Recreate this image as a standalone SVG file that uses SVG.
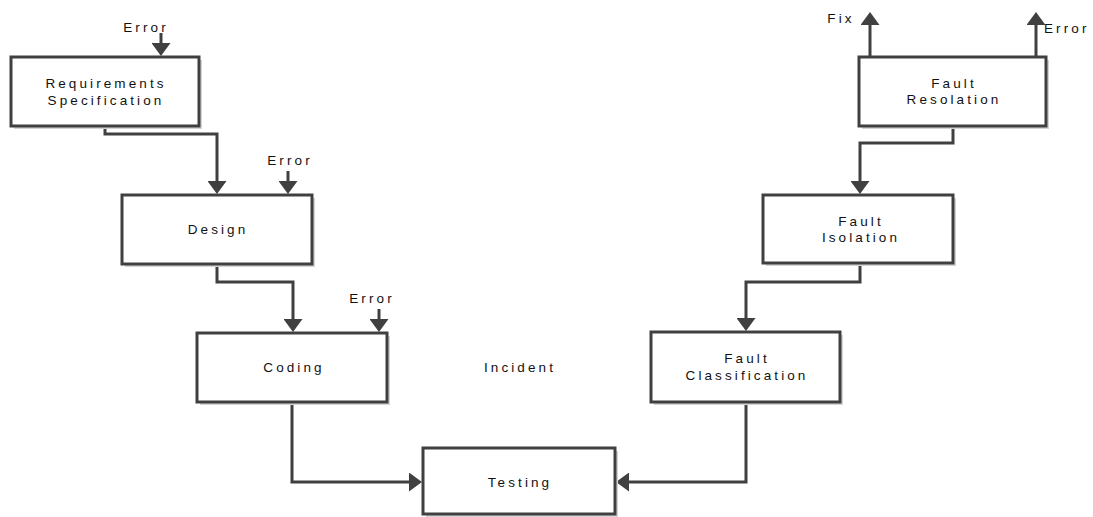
<svg xmlns="http://www.w3.org/2000/svg" width="1093" height="517" viewBox="0 0 1093 517">
<style>
.box{fill:#fff;stroke:#404040;stroke-width:3}
.sh{fill:#d4d4d4}
.t{font-family:"Liberation Sans",Arial,sans-serif;font-size:13.5px;letter-spacing:3.1px;fill:#111;text-anchor:middle}
.ts{font-family:"Liberation Sans",Arial,sans-serif;font-size:13.5px;letter-spacing:3.1px;fill:#111}
.c{fill:none;stroke:#404040;stroke-width:3;marker-end:url(#ah)}
</style>
<defs>
<marker id="ah" viewBox="0 0 13 19" refX="7" refY="9.5" markerWidth="13" markerHeight="19" markerUnits="userSpaceOnUse" orient="auto">
<path d="M0,0 L13,9.5 L0,19 Z" fill="#404040"/>
</marker>
</defs>
<g id="connectors">
<path class="c" d="M161 33 V50"/>
<path class="c" d="M105 126 V134 H217 V188"/>
<path class="c" d="M288 171 V188"/>
<path class="c" d="M217 264 V282 H293 V326"/>
<path class="c" d="M379 309 V326"/>
<path class="c" d="M292 402 V482 H416"/>
<path class="c" d="M746 402 V482 H622"/>
<path class="c" d="M860 263 V282 H746 V325"/>
<path class="c" d="M953 126 V143 H860 V188"/>
<path class="c" d="M870 57 V18"/>
<path class="c" d="M1036 57 V18"/>
</g>
<g id="labels">
<text class="t" x="146" y="32">Error</text>
<text class="t" x="290" y="164.5">Error</text>
<text class="t" x="372" y="302.5">Error</text>
<text class="t" x="841" y="22.5">Fix</text>
<text class="ts" x="1044" y="32.5">Error</text>
<text class="t" x="520" y="371.5">Incident</text>
</g>
<g id="req">
<rect class="sh" x="14" y="60" width="188" height="69"/>
<rect class="box" x="11" y="57" width="188" height="69"/>
<text class="t" x="106" y="88">Requirements</text>
<text class="t" x="106" y="104.5">Specification</text>
</g>
<g id="design">
<rect class="sh" x="125" y="198" width="190" height="69"/>
<rect class="box" x="122" y="195" width="190" height="69"/>
<text class="t" x="218" y="233.5">Design</text>
</g>
<g id="coding">
<rect class="sh" x="200" y="336" width="190" height="69"/>
<rect class="box" x="197" y="333" width="190" height="69"/>
<text class="t" x="294" y="371.5">Coding</text>
</g>
<g id="testing">
<rect class="sh" x="426" y="451" width="192" height="66"/>
<rect class="box" x="423" y="448" width="192" height="66"/>
<text class="t" x="520" y="486.5">Testing</text>
</g>
<g id="fault-classification">
<rect class="sh" x="654" y="335" width="189" height="70"/>
<rect class="box" x="651" y="332" width="189" height="70"/>
<text class="t" x="747" y="363">Fault</text>
<text class="t" x="747" y="379.5">Classification</text>
</g>
<g id="fault-isolation">
<rect class="sh" x="766" y="198" width="190" height="68"/>
<rect class="box" x="763" y="195" width="190" height="68"/>
<text class="t" x="861" y="225.5">Fault</text>
<text class="t" x="861" y="242">Isolation</text>
</g>
<g id="fault-resolation">
<rect class="sh" x="862" y="60" width="187" height="69"/>
<rect class="box" x="859" y="57" width="187" height="69"/>
<text class="t" x="954" y="87.5">Fault</text>
<text class="t" x="954" y="104">Resolation</text>
</g>
</svg>
